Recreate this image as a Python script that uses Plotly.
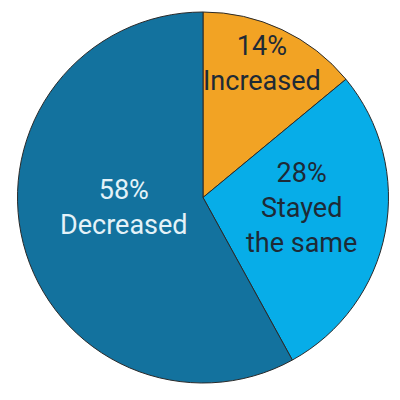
import plotly.graph_objects as go

labels = ['Increased', 'Stayed the same', 'Decreased']
values = [14, 28, 58]
texts = ['14%<br>Increased', '28%<br>Stayed<br>the same', '58%<br>Decreased']
colours = ['#F2A324', '#07ADE8', '#13729E']
text_colours = ['#1E2A36', '#1E2A36', '#E4F2F8']
# where each slice label sits (paper coords)
label_x = [0.636, 0.7325, 0.29]
label_y = [0.861, 0.499, 0.501]

fig = go.Figure(go.Pie(
    labels=labels, values=values,
    textinfo='none',
    sort=False, direction='clockwise', rotation=0,
    marker=dict(colors=colours, line=dict(color='#2A2A2A', width=1)),
    domain=dict(x=[0.0225, 0.9525], y=[0.0625, 0.99]),
    showlegend=False, hoverinfo='label+percent',
))

for t, x, y, c in zip(texts, label_x, label_y, text_colours):
    fig.add_annotation(text=t, x=x, y=y, xref='paper', yref='paper',
                       xanchor='center', yanchor='middle', showarrow=False,
                       font=dict(family='Roboto', size=27, color=c))

fig.update_layout(width=400, height=400, margin=dict(l=0, r=0, t=0, b=0),
                  paper_bgcolor='white', plot_bgcolor='white')

fig.write_html("out.html")
